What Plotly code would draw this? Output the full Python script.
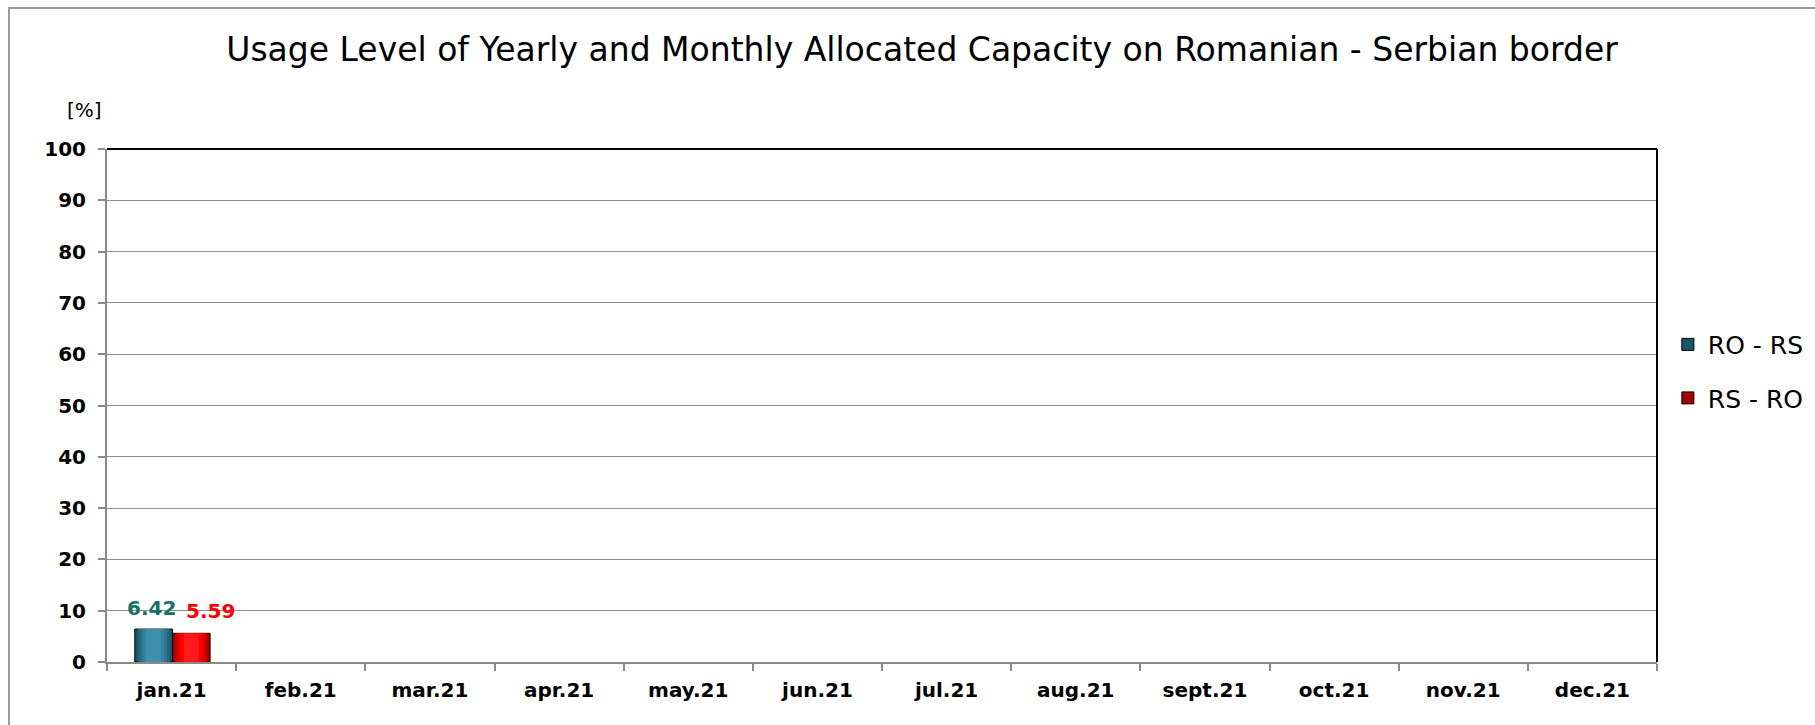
import plotly.graph_objects as go

# Data
months = ["jan.21", "feb.21", "mar.21", "apr.21", "may.21", "jun.21",
          "jul.21", "aug.21", "sept.21", "oct.21", "nov.21", "dec.21"]
ro_rs = [6.42, None, None, None, None, None, None, None, None, None, None, None]
rs_ro = [5.59, None, None, None, None, None, None, None, None, None, None, None]

series = [
    # name, values, offset, width, shades (outer -> inner), label colour, label shift
    ("RO - RS", ro_rs, -0.285, 0.293,
     ["#1b5568", "#246579", "#2d768e", "#3585a1", "#3d8fab"], "#17706e", -20, 21),
    ("RS - RO", rs_ro, 0.008, 0.29,
     ["#a80000", "#cc0000", "#ea0000", "#ff0000", "#ff1a1a"], "#ff0000", 39, 22),
]

FONT = "DejaVu Sans, Arial, sans-serif"

fig = go.Figure()

for name, vals, off, w, shades, _, _, _ in series:
    n = len(shades)
    for i, col in enumerate(shades):
        frac = 1.0 - i * (0.75 / n)
        lw = w * frac
        lo = off + (w - lw) / 2
        fig.add_trace(go.Bar(
            x=months, y=vals, name=name,
            offset=lo, width=lw,
            marker=dict(color=col,
                        line=dict(color="#000000" if i == 0 else col,
                                  width=1 if i == 0 else 0)),
            showlegend=(i == 0), legendgroup=name,
            hoverinfo="skip" if i else None,
        ))

# value labels above the bars
for name, vals, off, w, shades, lcol, xs, ys in series:
    for m, v in zip(months, vals):
        if v is None:
            continue
        fig.add_annotation(
            x=m, y=v, xref="x", yref="y", text=f"{v:.2f}",
            showarrow=False, xshift=xs, yshift=ys, yanchor="middle",
            font=dict(family=FONT, size=20, color=lcol, weight="bold"),
        )

# y-axis unit
fig.add_annotation(
    x=-0.0142, y=1.076, xref="paper", yref="paper", text="[%]",
    showarrow=False, xanchor="center", yanchor="middle",
    font=dict(family=FONT, size=20, color="#000000"),
)

# plot-area frame (top and right in black) and outer chart frame
fig.add_shape(type="line", xref="paper", yref="paper", x0=0, x1=1, y0=1, y1=1,
              line=dict(color="#000000", width=2), layer="above")
fig.add_shape(type="line", xref="paper", yref="paper", x0=1, x1=1, y0=0, y1=1,
              line=dict(color="#000000", width=2), layer="above")
fig.add_shape(type="rect", xref="paper", yref="paper",
              x0=-0.0632, x1=2, y0=-2, y1=1.2749,
              line=dict(color="#9a9a9a", width=2), layer="below")

fig.update_layout(
    width=1815, height=725,
    margin=dict(l=107, r=158, t=149, b=63, autoexpand=False),
    paper_bgcolor="#ffffff", plot_bgcolor="#ffffff",
    barmode="overlay",
    font=dict(family=FONT, color="#000000"),
    title=dict(
        text="Usage Level of Yearly and Monthly Allocated Capacity on Romanian - Serbian border",
        x=0.508, xref="container", xanchor="center",
        y=0.932, yref="container", yanchor="middle",
        font=dict(family=FONT, size=33, color="#000000"),
    ),
    legend=dict(
        x=1.007, xanchor="left", y=0.567, yanchor="middle",
        font=dict(family=FONT, size=25, color="#000000"),
        tracegroupgap=18, traceorder="grouped",
        bgcolor="rgba(0,0,0,0)",
    ),
    xaxis=dict(
        type="category", categoryorder="array", categoryarray=months,
        range=[-0.5, 11.5],
        showgrid=False, showline=True, linecolor="#8a8a8a", linewidth=2,
        ticks="outside", tickson="boundaries", ticklen=7, tickcolor="#8a8a8a",
        tickwidth=2, ticklabelstandoff=9,
        tickfont=dict(family=FONT, size=20, color="#000000", weight="bold"),
        zeroline=False,
    ),
    yaxis=dict(
        range=[0, 100], dtick=10, tick0=0,
        showgrid=True, gridcolor="#8c8c8c", gridwidth=1,
        showline=True, linecolor="#8a8a8a", linewidth=2,
        ticks="outside", ticklen=7, tickcolor="#8a8a8a", tickwidth=2,
        ticklabelstandoff=8,
        tickfont=dict(family=FONT, size=20, color="#000000", weight="bold"),
        zeroline=False,
    ),
)

fig.write_html("out.html")
